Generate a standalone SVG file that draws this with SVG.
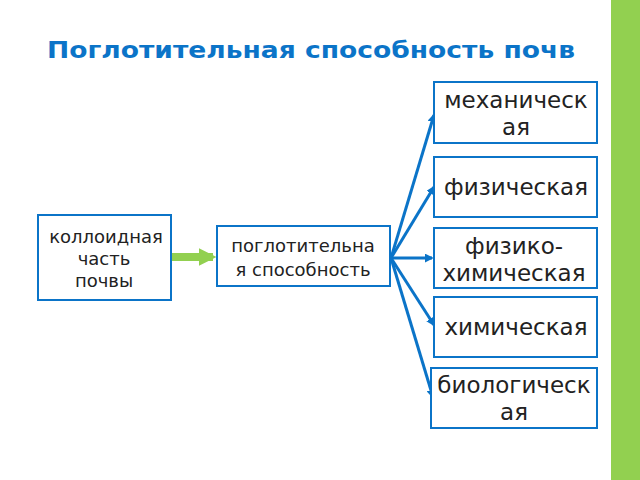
<svg xmlns="http://www.w3.org/2000/svg" width="640" height="480" viewBox="0 0 640 480">
<style>
.b{fill:#fff;stroke:#0B74C8;stroke-width:2}
.t{font-family:"DejaVu Sans",sans-serif;fill:#222;text-anchor:middle}
.c{stroke:#0B74C8;stroke-width:3;fill:none;marker-end:url(#a)}
</style>
<defs><marker id="a" viewBox="0 0 10 10" refX="8" refY="5" markerWidth="3" markerHeight="3" orient="auto"><path d="M0,0L10,5L0,10z" fill="#0B74C8"/></marker>
<marker id="g" viewBox="0 0 10 10" refX="8" refY="5" markerWidth="2.2" markerHeight="2.6" orient="auto"><path d="M0,0L10,5L0,10z" fill="#92D050"/></marker></defs>
<rect width="640" height="480" fill="#fff"/>
<rect x="611" y="0" width="29" height="480" fill="#92D050"/>
<text x="311" y="58" font-family="DejaVu Sans,sans-serif" font-weight="bold" font-size="23" fill="#0B74C8" text-anchor="middle" textLength="528" lengthAdjust="spacingAndGlyphs">Поглотительная способность почв</text>
<g id="connectors">
<line x1="172" y1="257" x2="213" y2="257" stroke="#92D050" stroke-width="8" marker-end="url(#g)"/>
<path class="c" d="M391,258L434,115"/>
<path class="c" d="M391,258L434,187"/>
<path class="c" d="M391,258L432,258"/>
<path class="c" d="M391,258L434,325"/>
<path class="c" d="M391,258L433,397"/>
</g>
<g id="n1"><rect class="b" x="38" y="215" width="133" height="85"/><text class="t" font-size="18"><tspan x="106" y="243">коллоидная</tspan><tspan x="104" y="265">часть</tspan><tspan x="104" y="287">почвы</tspan></text></g>
<g id="n2"><rect class="b" x="217" y="226" width="173" height="60"/><text class="t" font-size="18"><tspan x="303" y="252">поглотительна</tspan><tspan x="303" y="276">я способность</tspan></text></g>
<g id="n3"><rect class="b" x="434" y="82" width="163" height="61"/><text class="t" font-size="23"><tspan x="516" y="108">механическ</tspan><tspan x="516" y="135">ая</tspan></text></g>
<g id="n4"><rect class="b" x="434" y="157" width="163" height="60"/><text class="t" font-size="23" x="516" y="195">физическая</text></g>
<g id="n5"><rect class="b" x="434" y="228" width="163" height="60"/><text class="t" font-size="23"><tspan x="514" y="254">физико-</tspan><tspan x="514" y="281">химическая</tspan></text></g>
<g id="n6"><rect class="b" x="434" y="297" width="163" height="60"/><text class="t" font-size="23" x="516" y="335">химическая</text></g>
<g id="n7"><rect class="b" x="431" y="368" width="166" height="60"/><text class="t" font-size="23"><tspan x="514" y="393">биологическ</tspan><tspan x="514" y="420">ая</tspan></text></g>
</svg>
